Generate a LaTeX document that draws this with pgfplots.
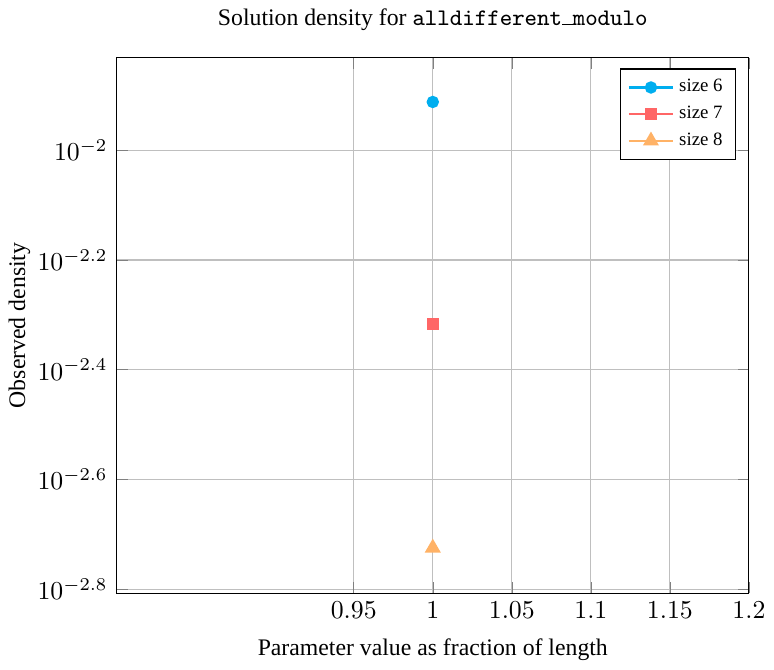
\documentclass[border=0pt]{standalone}
\usepackage{fontspec}
\setmainfont{Liberation Serif}
\usepackage{pgfplots}
\pgfplotsset{compat=1.18}
\definecolor{cola}{RGB}{0,174,239}
\definecolor{colb}{RGB}{255,102,102}
\definecolor{colc}{RGB}{255,178,102}
\newcommand{\lblfont}{\fontsize{9.2}{11}\selectfont}
\begin{document}
\begin{tikzpicture}
\begin{axis}[
  scale only axis,
  width=245pt, height=207.5pt,
  ymode=log,
  xmin=0.8, xmax=1.2,
  ymin=0.001558, ymax=0.014757,
  xtick={0.95,1,1.05,1.1,1.15,1.2},
  ytick={0.01,0.0063096,0.0039811,0.0025119,0.0015849},
  yticklabels={$10^{-2}$,$10^{-2.2}$,$10^{-2.4}$,$10^{-2.6}$,$10^{-2.8}$},
  grid=major,
  title={Solution density for \texttt{alldifferent{\rule{0.45em}{0.4pt}}modulo}},
  title style={font=\lblfont, yshift=1pt},
  label style={font=\lblfont},
  xlabel={Parameter value as fraction of length},
  ylabel={Observed density},
  ylabel shift=-4pt,
  xlabel shift=1pt,
  legend cell align=left,
  legend style={font=\fontsize{7.3}{9}\selectfont, at={(1,1)}, xshift=-5pt, yshift=-4.2pt, anchor=north east},
]
\addplot[cola, thick, mark=*] coordinates {(1,0.01225)};
\addlegendentry{size 6}
\addplot[colb, thick, mark=square*] coordinates {(1,0.00482)};
\addlegendentry{size 7}
\addplot[colc, thick, mark=triangle*, mark size=2.8pt] coordinates {(1,0.001884)};
\addlegendentry{size 8}
\end{axis}
\end{tikzpicture}
\end{document}
